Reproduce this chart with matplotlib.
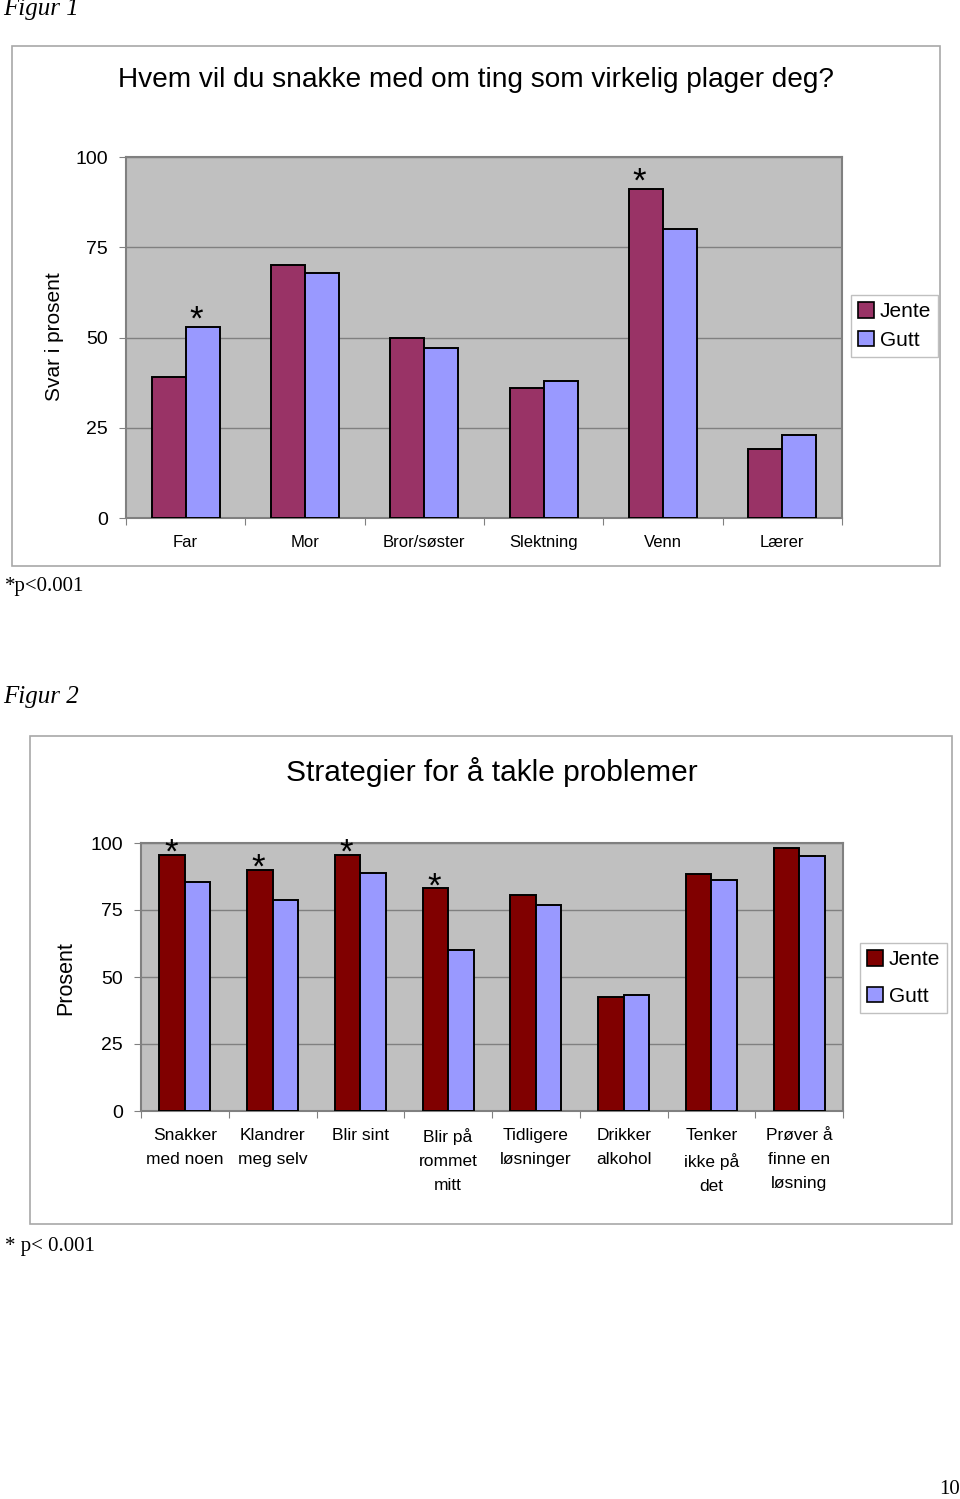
import matplotlib

matplotlib.use("Agg")
import matplotlib.pyplot as plt  # noqa: E402
from matplotlib.patches import Rectangle  # noqa: E402

# Figur 1
cats1 = ["Far", "Mor", "Bror/søster", "Slektning", "Venn", "Lærer"]
jente1 = [39, 70, 50, 36, 91, 19]
gutt1 = [53, 68, 47, 38, 80, 23]
stars1 = [("Gutt", 0), ("Jente", 4)]

# Figur 2
cats2 = ["Snakker\nmed noen", "Klandrer\nmeg selv", "Blir sint", "Blir på\nrommet\nmitt",
         "Tidligere\nløsninger", "Drikker\nalkohol", "Tenker\nikke på\ndet", "Prøver å\nfinne en\nløsning"]
jente2 = [95.7, 90.1, 95.7, 83.2, 80.6, 42.6, 88.3, 98.1]
gutt2 = [85.5, 78.7, 88.8, 60.1, 76.8, 43.3, 86.3, 95.0]
stars2 = [("Jente", 0), ("Jente", 1), ("Jente", 2), ("Jente", 3)]

yticks = [0, 25, 50, 75, 100]

W, H = 960, 1499
SANS = ["Liberation Sans", "DejaVu Sans"]
SERIF = ["Liberation Serif", "DejaVu Serif"]
plt.rcParams["font.family"] = SANS


def fx(px):
    return px / W


def fy(py):
    return 1 - py / H


def bar_chart(fig, rect, cats, jente, gutt, stars, c_jente, width, star_off, cat_size):
    ax = fig.add_axes(rect)
    ax.set_facecolor("#C0C0C0")
    n = len(cats)
    xs = list(range(n))
    xj = [x - width / 2 for x in xs]
    xg = [x + width / 2 for x in xs]
    ax.bar(xj, jente, width, color=c_jente, edgecolor="black", lw=1.4, zorder=3)
    ax.bar(xg, gutt, width, color="#9999FF", edgecolor="black", lw=1.4, zorder=3)
    for who, i in stars:
        x, v = (xj[i], jente[i]) if who == "Jente" else (xg[i], gutt[i])
        ax.annotate("*", xy=(x, v), xytext=star_off, textcoords="offset points",
                    ha="center", va="center", fontsize=25, zorder=5)
    ax.set_xlim(-0.5, n - 0.5)
    ax.set_ylim(0, 100)
    ax.set_yticks(yticks)
    ax.grid(axis="y", color="#808080", lw=1, zorder=0)
    ax.set_xticks([x - 0.5 for x in range(n + 1)])
    ax.set_xticklabels([])
    ax.set_xticks(xs, minor=True)
    ax.set_xticklabels(cats, minor=True, fontsize=cat_size, linespacing=1.75, va="top")
    ax.tick_params(axis="x", which="major", length=5, color="#808080")
    ax.tick_params(axis="x", which="minor", length=0, pad=12)
    ax.tick_params(axis="y", length=5, color="#808080", labelsize=14, pad=8)
    for s in ax.spines.values():
        s.set_color("#808080")
        s.set_linewidth(1.5)
    return ax


fig = plt.figure(figsize=(W / 100, H / 100), dpi=100)

# outer frames
fig.add_artist(Rectangle((fx(12), fy(566)), fx(928), 520 / H, transform=fig.transFigure,
                         fill=False, edgecolor="#A8A8A8", lw=1.2))
fig.add_artist(Rectangle((fx(30), fy(1224)), fx(922), 488 / H, transform=fig.transFigure,
                         fill=False, edgecolor="#A8A8A8", lw=1.2))

ax1 = bar_chart(fig, [fx(126), fy(518), fx(716), 361 / H], cats1, jente1, gutt1, stars1,
                "#993366", 0.285, (-5, 5), 12)
ax2 = bar_chart(fig, [fx(141), fy(1111), fx(702), 268 / H], cats2, jente2, gutt2, stars2,
                "#800000", 0.29, (-1, 1), 12.5)

fig.text(fx(476), fy(80), "Hvem vil du snakke med om ting som virkelig plager deg?",
         ha="center", va="center", fontsize=20.2)
fig.text(fx(492), fy(772), "Strategier for å takle problemer", ha="center", va="center",
         fontsize=21.5)
fig.text(fx(55), fy(337), "Svar i prosent", rotation=90, ha="center", va="center", fontsize=15)
fig.text(fx(66), fy(978), "Prosent", rotation=90, ha="center", va="center", fontsize=15.5)

for ax, c_jente, cx, cy, sp in [(ax1, "#993366", 894.5, 326, 0.45), (ax2, "#800000", 903.5, 978, 0.85)]:
    handles = [Rectangle((0, 0), 1, 1, facecolor=c_jente, edgecolor="black", lw=1.2),
               Rectangle((0, 0), 1, 1, facecolor="#9999FF", edgecolor="black", lw=1.2)]
    leg = fig.legend(handles, ["Jente", "Gutt"], loc="center", bbox_to_anchor=(fx(cx), fy(cy)),
                     fontsize=15, handlelength=0.75, handleheight=0.75, handletextpad=0.3,
                     labelspacing=sp, borderpad=0.35, fancybox=False, framealpha=1)
    leg.get_frame().set_edgecolor("#C0C0C0")

fig.text(fx(3), fy(9), "Figur 1", ha="left", va="center", fontsize=18, style="italic", family=SERIF)
fig.text(fx(3), fy(697), "Figur 2", ha="left", va="center", fontsize=18, style="italic", family=SERIF)
fig.text(fx(5), fy(587), "*p<0.001", ha="left", va="center", fontsize=15, family=SERIF)
fig.text(fx(5), fy(1246), "* p< 0.001", ha="left", va="center", fontsize=15, family=SERIF)
fig.text(fx(960), fy(1490), "10", ha="right", va="center", fontsize=15, family=SERIF)

fig.savefig("out.png", dpi=100)
